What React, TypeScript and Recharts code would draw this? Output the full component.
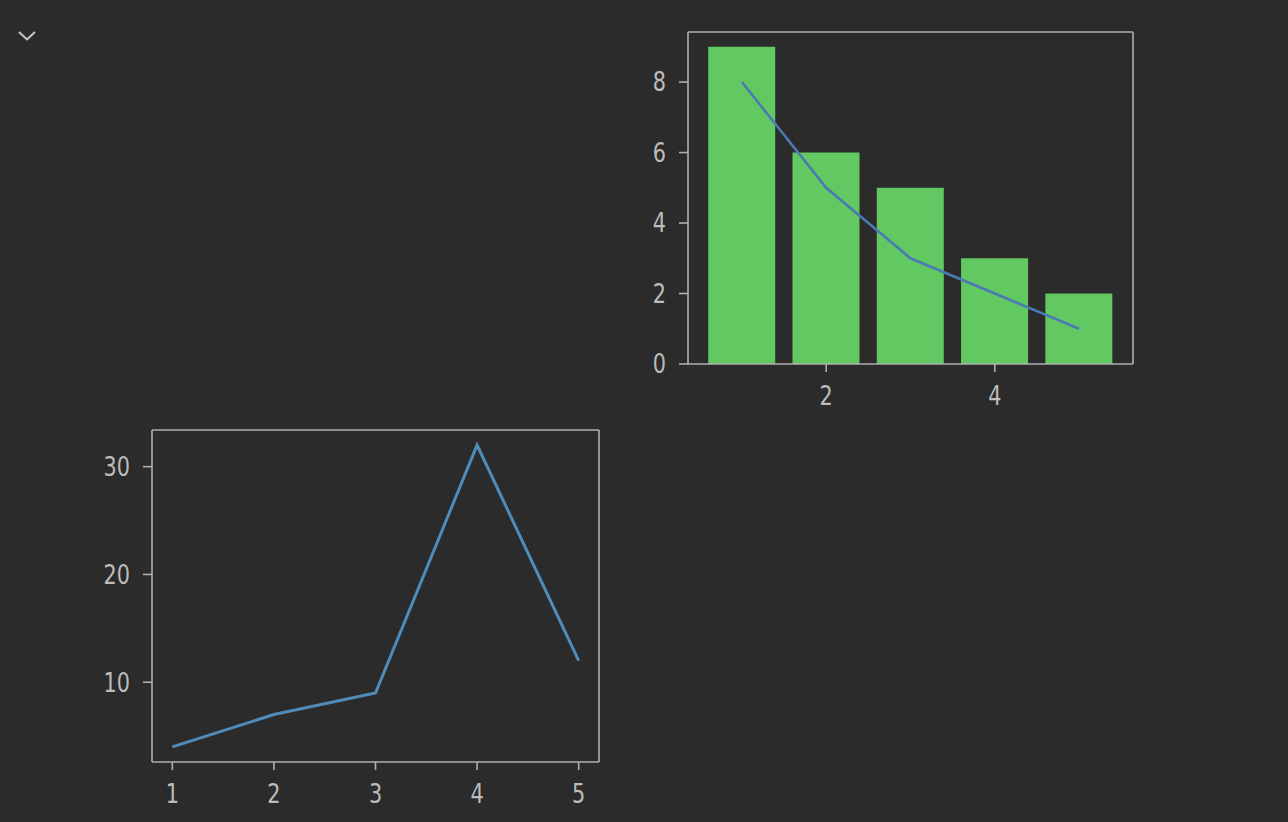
import React from "react";
import { ComposedChart, LineChart, Bar, Line, XAxis, YAxis, ReferenceLine } from "recharts";

const xValues = [1, 2, 3, 4, 5];
const barValues = [9, 6, 5, 3, 2];
const topLineValues = [8, 5, 3, 2, 1];
const bottomLineValues = [4, 7, 9, 32, 12];

const topXTicks = [2, 4];
const topYTicks = [0, 2, 4, 6, 8];
const bottomXTicks = [1, 2, 3, 4, 5];
const bottomYTicks = [10, 20, 30];

const topXDomain = [0.36, 5.64];
const topYDomain = [0, 9.42];
const bottomXDomain = [0.8, 5.2];
const bottomYDomain = [2.6, 33.4];

const topData = xValues.map((x, i) => ({ x, bar: barValues[i], line: topLineValues[i] }));
const bottomData = xValues.map((x, i) => ({ x, y: bottomLineValues[i] }));

const BG = "#2b2b2b";
const AX = "#b0b0b0";
const TXT = "#bcbcbc";
const FS = 26;

function AxisTick(props: any) {
  const { x, y, payload, textAnchor, vertical } = props;
  const dy = vertical ? FS * 0.36 : FS * 0.72;
  return (
    <g transform={`translate(${x},${y})`}>
      <text
        transform="scale(0.8,1)"
        x={0}
        y={dy}
        textAnchor={textAnchor}
        fill={TXT}
        fontSize={FS}
        fontFamily="'DejaVu Sans', sans-serif"
      >
        {payload.value}
      </text>
    </g>
  );
}

const XTick = (p: any) => <AxisTick {...p} vertical={false} />;
const YTick = (p: any) => <AxisTick {...p} vertical={true} />;

const axisLine = { stroke: AX, strokeWidth: 1.6 };

export default function App() {
  return (
    <div style={{ position: "absolute", left: 0, top: 0, width: 1288, height: 822, background: BG, overflow: "hidden" }}>
      <svg style={{ position: "absolute", left: 0, top: 0 }} width={60} height={60}>
        <polyline points="19,32 27,39.5 35,32" fill="none" stroke="#c8c8c8" strokeWidth={2} />
      </svg>

      <div style={{ position: "absolute", left: 620, top: 20 }}>
        <ComposedChart
          width={530}
          height={410}
          data={topData}
          margin={{ top: 12, right: 17, left: 0, bottom: 0 }}
          barCategoryGap="10%"
        >
          <XAxis
            dataKey="x"
            type="number"
            domain={topXDomain}
            ticks={topXTicks}
            allowDataOverflow
            height={66}
            axisLine={axisLine}
            tickLine={axisLine}
            tickSize={8}
            tickMargin={14}
            tick={<XTick />}
          />
          <YAxis
            type="number"
            domain={topYDomain}
            ticks={topYTicks}
            allowDataOverflow
            width={68}
            axisLine={axisLine}
            tickLine={axisLine}
            tickSize={9}
            tickMargin={13}
            tick={<YTick />}
          />
          <Bar dataKey="bar" fill="#62c862" isAnimationActive={false} />
          <Line dataKey="line" type="linear" stroke="#4a7ab4" strokeWidth={2.6} dot={false} isAnimationActive={false} />
          <ReferenceLine x={topXDomain[1]} stroke={AX} strokeWidth={1.6} ifOverflow="extendDomain" />
          <ReferenceLine y={topYDomain[1]} stroke={AX} strokeWidth={1.6} ifOverflow="extendDomain" />
        </ComposedChart>
      </div>

      <div style={{ position: "absolute", left: 90, top: 418 }}>
        <LineChart
          width={530}
          height={404}
          data={bottomData}
          margin={{ top: 12, right: 21, left: 0, bottom: 0 }}
        >
          <XAxis
            dataKey="x"
            type="number"
            domain={bottomXDomain}
            ticks={bottomXTicks}
            allowDataOverflow
            height={60}
            axisLine={axisLine}
            tickLine={axisLine}
            tickSize={8}
            tickMargin={14}
            tick={<XTick />}
          />
          <YAxis
            type="number"
            domain={bottomYDomain}
            ticks={bottomYTicks}
            allowDataOverflow
            width={62}
            axisLine={axisLine}
            tickLine={axisLine}
            tickSize={9}
            tickMargin={13}
            tick={<YTick />}
          />
          <Line dataKey="y" type="linear" stroke="#4f8cba" strokeWidth={3} dot={false} isAnimationActive={false} />
          <ReferenceLine x={bottomXDomain[1]} stroke={AX} strokeWidth={1.6} ifOverflow="extendDomain" />
          <ReferenceLine y={bottomYDomain[1]} stroke={AX} strokeWidth={1.6} ifOverflow="extendDomain" />
        </LineChart>
      </div>
    </div>
  );
}
